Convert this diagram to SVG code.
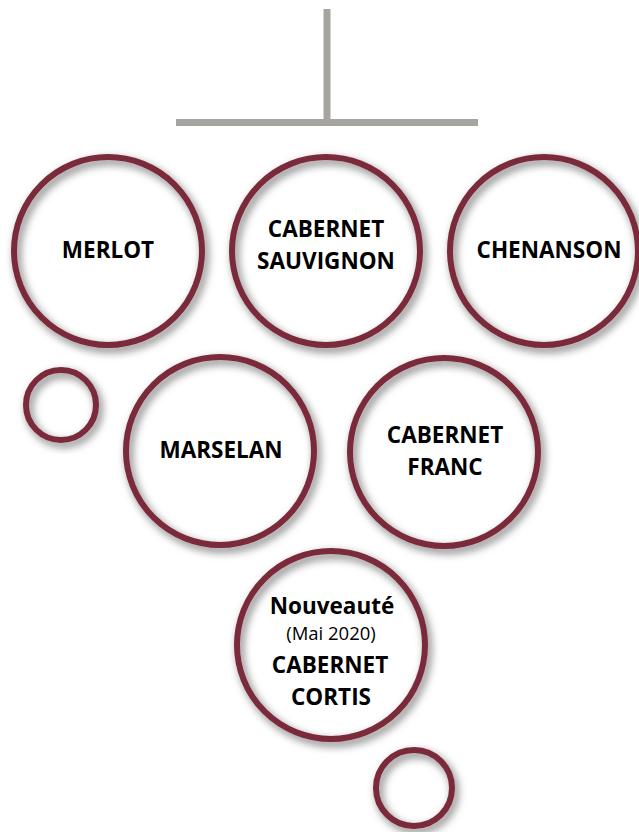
<svg xmlns="http://www.w3.org/2000/svg" width="639" height="832" viewBox="0 0 639 832">
<style>
.ring{fill:none;stroke:#7a2a3a;stroke-width:6;filter:url(#sh)}
.b{font-family:"Open Sans","Liberation Sans",sans-serif;font-weight:bold;font-size:22.5px;fill:#000;text-anchor:middle}
.r{font-family:"Open Sans","Liberation Sans",sans-serif;font-size:18.5px;fill:#000;text-anchor:middle}
.stem{stroke:#a5a49f;stroke-width:7;fill:none}
</style>
<defs>
<filter id="sh" x="-20%" y="-20%" width="140%" height="140%">
<feDropShadow dx="3" dy="4" stdDeviation="4" flood-color="#000" flood-opacity="0.55"/>
</filter>
</defs>
<rect width="639" height="832" fill="#fff"/>
<g id="connectors">
<line class="stem" x1="327" y1="9" x2="327" y2="122"/>
<line class="stem" x1="176" y1="122.5" x2="478" y2="122.5"/>
</g>
<g id="merlot"><circle class="ring" cx="108" cy="251" r="94"/><text class="b" x="108" y="258">MERLOT</text></g>
<g id="cabernet-sauvignon"><circle class="ring" cx="326" cy="251" r="94"/><text class="b" x="326" y="237">CABERNET</text><text class="b" x="326" y="269">SAUVIGNON</text></g>
<g id="chenanson"><circle class="ring" cx="544" cy="251" r="94"/><text class="b" x="549" y="258">CHENANSON</text></g>
<g id="small-left"><circle class="ring" cx="61" cy="405" r="35"/></g>
<g id="marselan"><circle class="ring" cx="220" cy="451" r="94"/><text class="b" x="221" y="458">MARSELAN</text></g>
<g id="cabernet-franc"><circle class="ring" cx="444" cy="452" r="94"/><text class="b" x="445" y="443">CABERNET</text><text class="b" x="445" y="475">FRANC</text></g>
<g id="cabernet-cortis"><circle class="ring" cx="331" cy="645" r="94"/><text class="b" x="332" y="614">Nouveauté</text><text class="r" x="331" y="640">(Mai 2020)</text><text class="b" x="330" y="673">CABERNET</text><text class="b" x="331" y="705">CORTIS</text></g>
<g id="small-bottom"><circle class="ring" cx="414" cy="788" r="38"/></g>
</svg>
